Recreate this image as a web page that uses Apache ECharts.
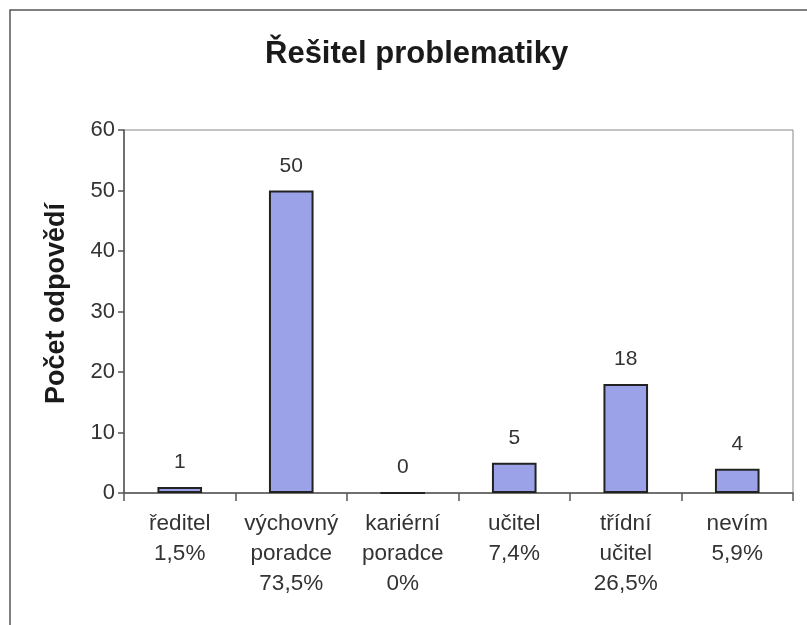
<!DOCTYPE html>
<html>
<head>
<meta charset="utf-8">
<script src="https://cdn.jsdelivr.net/npm/echarts@6/dist/echarts.min.js"></script>
<style>
html,body{margin:0;padding:0;background:#fff;}
#c{width:807px;height:625px;}
</style>
</head>
<body>
<div id="c"></div>
<script>
const categories = ['ředitel\n1,5%', 'výchovný\nporadce\n73,5%', 'kariérní\nporadce\n0%', 'učitel\n7,4%', 'třídní\nučitel\n26,5%', 'nevím\n5,9%'];
const values = [1, 50, 0, 5, 18, 4];
const yTicks = { min: 0, max: 60, interval: 10 };

const chart = echarts.init(document.getElementById('c'));
chart.setOption({
  backgroundColor: '#ffffff',
  animation: false,
  title: {
    text: 'Řešitel problematiky',
    left: 260,
    top: 34,
    textStyle: { fontFamily: 'Liberation Sans', fontSize: 31, fontWeight: 'bold', color: '#1a1a1a' }
  },
  graphic: [{
    type: 'rect',
    shape: { x: 10, y: 10, width: 820, height: 640 },
    style: { fill: 'none', stroke: '#555', lineWidth: 1.5 },
    silent: true
  }],
  grid: {
    left: 124, right: 14, top: 130, bottom: 132,
    show: true, borderColor: '#888', borderWidth: 1, backgroundColor: 'transparent'
  },
  xAxis: {
    type: 'category',
    data: categories,
    axisLine: { lineStyle: { color: '#555', width: 1.5 } },
    axisTick: { show: true, length: 8, lineStyle: { color: '#555', width: 1.5 } },
    axisLabel: {
      fontFamily: 'Liberation Sans', fontSize: 22.5, color: '#333',
      lineHeight: 30, margin: 16, interval: 0
    },
    splitLine: { show: false }
  },
  yAxis: {
    type: 'value',
    min: yTicks.min, max: yTicks.max, interval: yTicks.interval,
    name: 'Počet odpovědí',
    nameLocation: 'middle',
    nameRotate: 90,
    nameGap: 54,
    nameTextStyle: { fontFamily: 'Liberation Sans', fontSize: 27, fontWeight: 'bold', color: '#1a1a1a', padding: [0, 0, 0, 16] },
    axisLine: { show: true, lineStyle: { color: '#555', width: 1.5 } },
    axisTick: { show: true, length: 6, lineStyle: { color: '#555', width: 1.5 } },
    axisLabel: { fontFamily: 'Liberation Sans', fontSize: 22, color: '#333', margin: 9 },
    splitLine: { show: false }
  },
  series: [{
    type: 'bar',
    data: values,
    barWidth: '40%',
    itemStyle: { color: '#9ca2e8', borderColor: '#222', borderWidth: 2 },
    label: {
      show: true, position: 'top', distance: 14,
      fontFamily: 'Liberation Sans', fontSize: 21, color: '#333'
    }
  }]
});
</script>
</body>
</html>
